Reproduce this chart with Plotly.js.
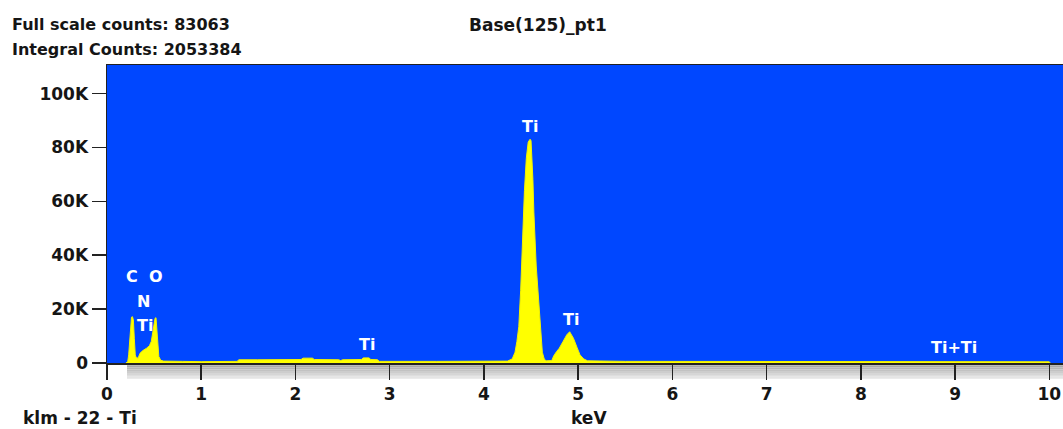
<!DOCTYPE html>
<html>
<head>
<meta charset="utf-8">
<script src="https://cdn.plot.ly/plotly-3.0.1.min.js"></script>
<style>
  html, body { margin: 0; padding: 0; background: #ffffff; }
  #chart { width: 1063px; height: 429px; }
</style>
</head>
<body>
<div id="chart"></div>
<script>
// ---- Data ----
// Energy in keV
var energyKeV = [
  0.20, 0.22, 0.23, 0.24, 0.25, 0.26, 0.27, 0.28, 0.29, 0.30, 0.31, 0.33, 0.35, 0.38, 0.42, 0.45,
  0.47, 0.49, 0.50, 0.51, 0.52, 0.53, 0.54, 0.55, 0.57, 0.60, 0.80, 1.00, 1.38, 1.40, 1.60, 1.80,
  2.00, 2.06, 2.08, 2.18, 2.20, 2.46, 2.48, 2.50, 2.70, 2.72, 2.78, 2.80, 2.87, 2.89, 3.50, 4.00,
  4.25, 4.30, 4.33, 4.35, 4.37, 4.39, 4.41, 4.43, 4.45, 4.47, 4.49, 4.50, 4.52, 4.53, 4.555, 4.58,
  4.60, 4.62, 4.64, 4.66, 4.72, 4.74, 4.77, 4.80, 4.84, 4.88, 4.91, 4.93, 4.95, 4.99, 5.02, 5.06,
  5.10, 5.50, 6.00, 7.00, 8.00, 9.00, 10.00, 10.01
];
// Counts
var counts = [
  0, 500, 3000, 9000, 14000, 17000, 17200, 16000, 9000, 3000, 2000, 1800, 3600, 4600, 5500, 6400,
  8000, 12000, 15400, 16600, 16800, 12000, 6000, 2400, 1000, 700, 600, 500, 600, 1200, 1200, 1300,
  1300, 1300, 1800, 1800, 1300, 1200, 900, 1200, 1300, 1900, 1900, 1300, 1200, 600, 600, 600,
  700, 1500, 4000, 8000, 13500, 27000, 46000, 64000, 76000, 82000, 83063, 82500, 68000, 56000, 36000, 22500,
  11000, 4000, 1500, 800, 900, 2600, 4200, 5500, 8000, 10500, 11600, 10600, 9200, 5600, 3000, 1500,
  800, 600, 550, 500, 500, 500, 450, 0
];

// Axis ticks
var xTickVals = [0, 1, 2, 3, 4, 5, 6, 7, 8, 9, 10];
var xTickText = ['0', '1', '2', '3', '4', '5', '6', '7', '8', '9', '10'];
var yTickVals = [0, 20000, 40000, 60000, 80000, 100000];
var yTickText = ['0', '20K', '40K', '60K', '80K', '100K'];

// Element labels on the spectrum
var peakLabels = ['C', 'O', 'N', 'Ti', 'Ti', 'Ti', 'Ti', 'Ti+Ti'];
var peakLabelE = [0.26, 0.52, 0.39, 0.405, 4.49, 4.92, 2.76, 8.99];
var peakLabelY = [32000, 32000, 23000, 13800, 87800, 16000, 6700, 5900];

// Header / footer texts
var fullScale = 'Full scale counts: 83063';
var integral = 'Integral Counts: 2053384';
var chartTitle = 'Base(125)_pt1';
var footerLeft = 'klm - 22 - Ti';
var xUnit = 'keV';

// ---- Layout geometry ----
var W = 1063, H = 429;
var M = {l: 107, r: 0, t: 65, b: 66};
var plotW = W - M.l - M.r, plotH = H - M.t - M.b;
function px(x) { return (x - M.l) / plotW; }
function py(y) { return (H - M.b - y) / plotH; }

var FONT = 'DejaVu Sans, Verdana, sans-serif';
var txt = '#151515';

var annotations = [];
function addText(t, x, y, anchor, size) {
  annotations.push({
    text: '<b>' + t + '</b>', xref: 'paper', yref: 'paper', x: px(x), y: py(y),
    xanchor: anchor, yanchor: 'middle', showarrow: false,
    font: {family: FONT, size: size || 16, color: txt}
  });
}
addText(fullScale, 10, 25, 'left', 16);
addText(integral, 10, 49, 'left', 16);
addText(chartTitle, 538, 25, 'center', 17);
addText(footerLeft, 21, 418, 'left', 17);
addText(xUnit, 589, 418, 'center', 17);

for (var i = 0; i < peakLabels.length; i++) {
  annotations.push({
    text: '<b>' + peakLabels[i] + '</b>', xref: 'x', yref: 'y',
    x: peakLabelE[i], y: peakLabelY[i], xanchor: 'center', yanchor: 'middle',
    showarrow: false, font: {family: FONT, size: 16, color: '#ffffff'}
  });
}

// gray gradient band below the axis
var shapes = [];
var grays = ['#9c9c9c', '#a9a9a9', '#b6b6b6', '#c2c2c2', '#cdcdcd', '#d6d6d6', '#dedede', '#e5e5e5'];
var bandTop = 363.5, bandStep = 1.9;
for (var g = 0; g < grays.length; g++) {
  shapes.push({
    type: 'rect', xref: 'paper', yref: 'paper', layer: 'below',
    x0: px(127), x1: 1,
    y0: py(bandTop + g * bandStep), y1: py(bandTop + (g + 1) * bandStep),
    fillcolor: grays[g], line: {width: 0}
  });
}

var trace = {
  type: 'scatter', mode: 'lines', x: energyKeV, y: counts,
  fill: 'tozeroy', fillcolor: '#ffff00',
  line: {color: '#f2f200', width: 1, shape: 'linear'},
  hoverinfo: 'skip'
};

var layout = {
  width: W, height: H, margin: M,
  paper_bgcolor: '#ffffff', plot_bgcolor: '#0047ff',
  showlegend: false,
  xaxis: {
    range: [0, plotW / 94.23], tickvals: xTickVals, ticktext: xTickText,
    ticks: 'outside', ticklen: 15, tickwidth: 1.5, tickcolor: '#222',
    showline: true, mirror: true, linecolor: '#222', linewidth: 1.5,
    showgrid: false, zeroline: false,
    tickfont: {family: FONT, size: 17, color: txt, weight: 'bold'}
  },
  yaxis: {
    range: [0, 110600], tickvals: yTickVals, ticktext: yTickText,
    ticks: 'outside', ticklen: 14, tickwidth: 1.5, tickcolor: '#222',
    showline: true, mirror: true, linecolor: '#222', linewidth: 1.5,
    showgrid: false, zeroline: false,
    tickfont: {family: FONT, size: 17, color: txt, weight: 'bold'}
  },
  annotations: annotations,
  shapes: shapes
};

Plotly.newPlot('chart', [trace], layout, {displayModeBar: false, staticPlot: true});
</script>
</body>
</html>
